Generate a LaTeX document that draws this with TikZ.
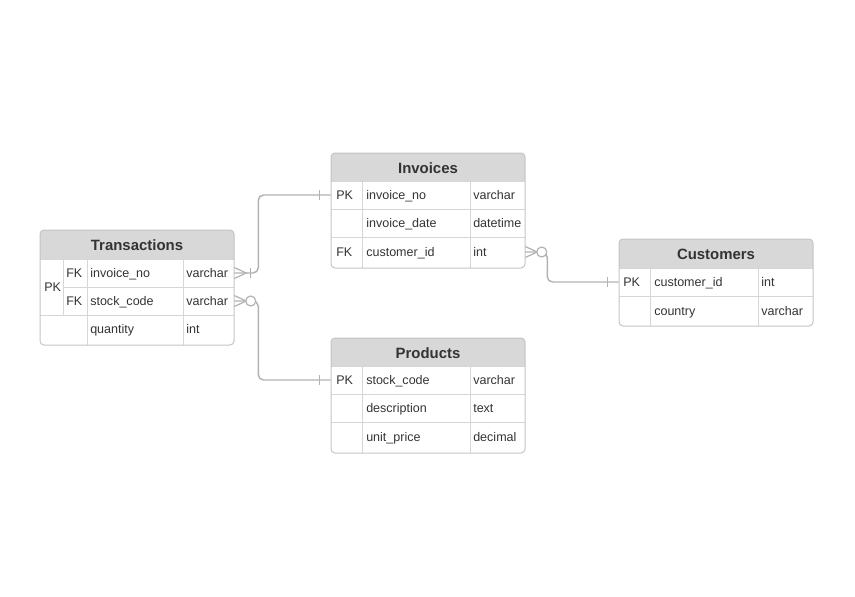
\documentclass[tikz,border=0pt]{standalone}
\usepackage{fontspec}
\setmainfont{Liberation Sans}
\usetikzlibrary{calc,positioning}
\usepackage{xcolor}
\definecolor{ink}{HTML}{333333}
\definecolor{headgray}{HTML}{D8D8D8}
\definecolor{frame}{HTML}{C4C4C4}
\definecolor{rule}{HTML}{D6D6D6}
\definecolor{link}{HTML}{B2B2B2}

\begin{document}
\begin{tikzpicture}[x=0.75pt, y=-0.75pt,
    tbl/.style={draw=frame, line width=0.75pt, rounded corners=3pt, minimum width=145.5pt, inner sep=0pt},
    head/.style={font=\fontsize{11.2}{13}\selectfont\bfseries, text=ink, inner sep=0pt},
    row/.style={minimum width=145.5pt, minimum height=21pt, inner sep=0pt},
    txt/.style={font=\fontsize{9.4}{11}\selectfont, text=ink, anchor=base west, inner sep=0pt},
    grid/.style={draw=rule, line width=0.75pt},
    headfill/.style={fill=headgray},
    rel/.style={draw=link, line width=1.1pt, rounded corners=4pt},
    foot/.style={draw=link, line width=0.9pt},
]
\useasboundingbox (0,0) rectangle (855,596);

% Transactions
\fill[headfill] (40,259) [rounded corners=3pt] -- (40,230) -- (234,230) [sharp corners] -- (234,259) -- cycle;
\draw[grid] (40,259) -- (234,259);
\draw[grid] (63,287) -- (234,287);
\draw[grid] (40,315) -- (234,315);
\draw[grid] (63,259) -- (63,315);
\draw[grid] (87,259) -- (87,345);
\draw[grid] (183,259) -- (183,345);
\node[tbl, minimum height=86.25pt] (trans) at (137,287.5) {};
\node[head] (trans-head) at (137,245) {Transactions};
\node[row] (trans-1) at (137,273) {};
\node[row] (trans-2) at (137,301) {};
\node[row] (trans-3) at (137,330) {};
\node[txt] (trans-pk) at (44,291.5) {PK};
\node[txt] (trans-1-key) at (66,277.5) {FK};
\node[txt] (trans-1-name) at (90,277.5) {invoice\_no};
\node[txt] (trans-1-type) at (186,277.5) {varchar};
\node[txt] (trans-2-key) at (66,305.5) {FK};
\node[txt] (trans-2-name) at (90,305.5) {stock\_code};
\node[txt] (trans-2-type) at (186,305.5) {varchar};
\node[txt] (trans-3-name) at (90,333.5) {quantity};
\node[txt] (trans-3-type) at (186,333.5) {int};

% Invoices
\fill[headfill] (331,181) [rounded corners=3pt] -- (331,153) -- (525,153) [sharp corners] -- (525,181) -- cycle;
\draw[grid] (331,181) -- (525,181);
\draw[grid] (331,209) -- (525,209);
\draw[grid] (331,237) -- (525,237);
\draw[grid] (362,181) -- (362,268);
\draw[grid] (470,181) -- (470,268);
\node[tbl, minimum height=86.25pt] (inv) at (428,210.5) {};
\node[head] (inv-head) at (428,168) {Invoices};
\node[row] (inv-1) at (428,195) {};
\node[row] (inv-2) at (428,223) {};
\node[row] (inv-3) at (428,252) {};
\node[txt] (inv-1-key) at (336,199.5) {PK};
\node[txt] (inv-1-name) at (366,199.5) {invoice\_no};
\node[txt] (inv-1-type) at (473,199.5) {varchar};
\node[txt] (inv-2-name) at (366,227.5) {invoice\_date};
\node[txt] (inv-2-type) at (473,227.5) {datetime};
\node[txt] (inv-3-key) at (336,256) {FK};
\node[txt] (inv-3-name) at (366,256) {customer\_id};
\node[txt] (inv-3-type) at (473,256) {int};

% Products
\fill[headfill] (331,366) [rounded corners=3pt] -- (331,338) -- (525,338) [sharp corners] -- (525,366) -- cycle;
\draw[grid] (331,366) -- (525,366);
\draw[grid] (331,394) -- (525,394);
\draw[grid] (331,422) -- (525,422);
\draw[grid] (362,366) -- (362,453);
\draw[grid] (470,366) -- (470,453);
\node[tbl, minimum height=86.25pt] (prod) at (428,395.5) {};
\node[head] (prod-head) at (428,353) {Products};
\node[row] (prod-1) at (428,380) {};
\node[row] (prod-2) at (428,408) {};
\node[row] (prod-3) at (428,437) {};
\node[txt] (prod-1-key) at (336,384.5) {PK};
\node[txt] (prod-1-name) at (366,384.5) {stock\_code};
\node[txt] (prod-1-type) at (473,384.5) {varchar};
\node[txt] (prod-2-name) at (366,412.5) {description};
\node[txt] (prod-2-type) at (473,412.5) {text};
\node[txt] (prod-3-name) at (366,441) {unit\_price};
\node[txt] (prod-3-type) at (473,441) {decimal};

% Customers
\fill[headfill] (619,268) [rounded corners=3pt] -- (619,239) -- (813,239) [sharp corners] -- (813,268) -- cycle;
\draw[grid] (619,268) -- (813,268);
\draw[grid] (619,296) -- (813,296);
\draw[grid] (650,268) -- (650,326);
\draw[grid] (758,268) -- (758,326);
\node[tbl, minimum height=65.25pt] (cust) at (716,282.5) {};
\node[head] (cust-head) at (716,254) {Customers};
\node[row] (cust-1) at (716,282) {};
\node[row] (cust-2) at (716,311) {};
\node[txt] (cust-1-key) at (623,286.5) {PK};
\node[txt] (cust-1-name) at (654,286.5) {customer\_id};
\node[txt] (cust-1-type) at (761,286.5) {int};
\node[txt] (cust-2-name) at (654,315) {country};
\node[txt] (cust-2-type) at (761,315) {varchar};

% relations
\draw[rel] (trans-1.east) -- ++(24,0) |- (inv-1.west);
\draw[rel] (trans-2.east) -- ++(24,0) |- (prod-1.west);
\draw[rel] (inv-3.east) -- ++(22,0) |- (cust-1.west);

% many ends
\draw[foot] ($(trans-1.east)+(0,-5.5)$) -- ($(trans-1.east)+(12,0)$) -- ($(trans-1.east)+(0,5.5)$);
\draw[foot] ($(trans-1.east)+(16,-5)$) -- ($(trans-1.east)+(16,5)$);
\draw[foot] ($(trans-2.east)+(0,-5.5)$) -- ($(trans-2.east)+(12,0)$) -- ($(trans-2.east)+(0,5.5)$);
\draw[foot, fill=white] ($(trans-2.east)+(16.5,0)$) circle[radius=3.75pt];
\draw[foot] ($(inv-3.east)+(0,-5.5)$) -- ($(inv-3.east)+(12,0)$) -- ($(inv-3.east)+(0,5.5)$);
\draw[foot, fill=white] ($(inv-3.east)+(16.5,0)$) circle[radius=3.75pt];

% one ends
\draw[foot] ($(inv-1.west)+(-11,-5)$) -- ($(inv-1.west)+(-11,5)$);
\draw[foot] ($(prod-1.west)+(-11,-5)$) -- ($(prod-1.west)+(-11,5)$);
\draw[foot] ($(cust-1.west)+(-11,-5)$) -- ($(cust-1.west)+(-11,5)$);

\end{tikzpicture}
\end{document}
